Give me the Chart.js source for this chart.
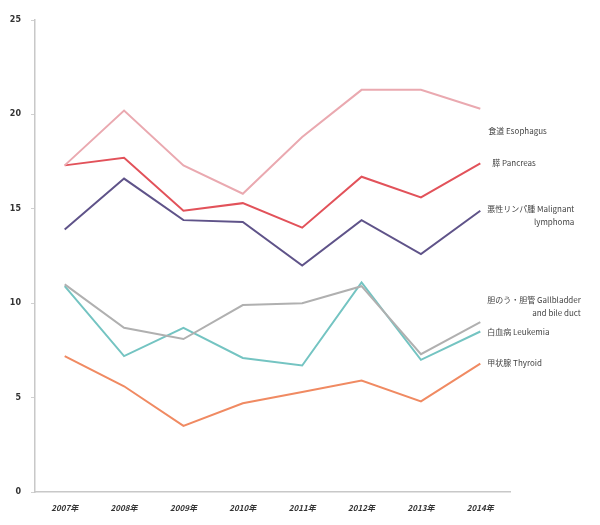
<!DOCTYPE html>
<html>
<head>
<meta charset="utf-8">
<script src="https://cdn.jsdelivr.net/npm/chart.js@4/dist/chart.umd.min.js"></script>
<style>
html,body{margin:0;padding:0;background:#fff;}
#wrap{width:600px;height:525px;position:relative;}
</style>
</head>
<body>
<div id="wrap"><canvas id="c" width="600" height="525"></canvas></div>
<script>
const categories = ["2007年","2008年","2009年","2010年","2011年","2012年","2013年","2014年"];
const esophagus  = [17.3, 20.2, 17.3, 15.8, 18.8, 21.3, 21.3, 20.3];
const pancreas   = [17.3, 17.7, 14.9, 15.3, 14.0, 16.7, 15.6, 17.4];
const lymphoma   = [13.9, 16.6, 14.4, 14.3, 12.0, 14.4, 12.6, 14.9];
const gallbladder= [11.0, 8.7, 8.1, 9.9, 10.0, 10.9, 7.3, 9.0];
const leukemia   = [10.9, 7.2, 8.7, 7.1, 6.7, 11.1, 7.0, 8.5];
const thyroid    = [7.2, 5.6, 3.5, 4.7, 5.3, 5.9, 4.8, 6.8];
const seriesLabels = [
  ["食道 Esophagus"],
  ["膵 Pancreas"],
  ["悪性リンパ腫 Malignant","lymphoma"],
  ["胆のう・胆管 Gallbladder","and bile duct"],
  ["白血病 Leukemia"],
  ["甲状腺 Thyroid"]
];
const yTicks = [0,5,10,15,20,25];

const colors = ["#eaa9b0","#e2525a","#5f5389","#b0b0b0","#74c4c2","#f08a62"];
const labelDy = [22, -1, -2, -22, 0, -1];
const labelDx = [8, 12, 7, 7, 7, 7];

const endLabels = {
  id:'endLabels',
  afterDatasetsDraw(chart){
    const ctx = chart.ctx;
    ctx.save();
    ctx.font = '8px "Noto Sans CJK JP", "DejaVu Sans", sans-serif';
    ctx.fillStyle = '#444';
    ctx.textBaseline = 'middle';
    chart.data.datasets.forEach((ds,i)=>{
      const meta = chart.getDatasetMeta(i);
      const pt = meta.data[meta.data.length-1];
      const lines = seriesLabels[i];
      const x = pt.x + labelDx[i];
      const y = pt.y + labelDy[i];
      ctx.textAlign = 'left';
      ctx.fillText(lines[0], x, y);
      if (lines[1]) {
        const w0 = ctx.measureText(lines[0]).width;
        ctx.textAlign = 'right';
        ctx.fillText(lines[1], x + w0, y + 13);
      }
    });
    ctx.restore();
  }
};

const data = [esophagus, pancreas, lymphoma, gallbladder, leukemia, thyroid];
new Chart(document.getElementById('c'), {
  type:'line',
  data:{
    labels:categories,
    datasets:data.map((d,i)=>({
      label:seriesLabels[i].join(' '),
      data:d,
      borderColor:colors[i],
      backgroundColor:colors[i],
      borderWidth:2,
      pointRadius:0,
      tension:0,
      fill:false
    }))
  },
  options:{
    responsive:false,
    animation:false,
    layout:{padding:{left:0,right:90,top:20,bottom:0}},
    plugins:{legend:{display:false},tooltip:{enabled:false}},
    scales:{
      x:{
        offset:true,
        grid:{display:false, drawOnChartArea:false, tickLength:4, color:'#c8c8c8'},
        border:{color:'#c8c8c8', width:1.5},
        ticks:{color:'#333', font:{size:8, weight:'bold', family:'"Noto Sans CJK JP", "DejaVu Sans", sans-serif', style:'italic'}, padding:7, maxRotation:0},
        afterFit(s){ s.height = 33; }
      },
      y:{
        min:0,max:25,
        afterBuildTicks(s){ s.ticks = yTicks.map(v=>({value:v})); },
        grid:{display:true, drawOnChartArea:false, tickLength:4, color:'#d0d0d0'},
        border:{color:'#c8c8c8', width:1.5},
        ticks:{color:'#333', font:{size:8, weight:'bold', family:'"DejaVu Sans", sans-serif'}, padding:10},
        afterFit(s){ s.width = 35; }
      }
    }
  },
  plugins:[endLabels]
});
</script>
</body>
</html>
